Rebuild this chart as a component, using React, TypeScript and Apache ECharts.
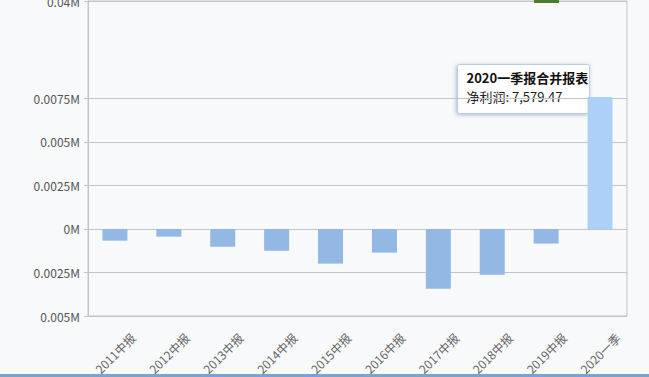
import React, { useEffect, useRef } from "react";
import * as echarts from "echarts";

const categories = ["2011中报", "2012中报", "2013中报", "2014中报", "2015中报", "2016中报", "2017中报", "2018中报", "2019中报", "2020一季"];
const netProfit = [-670, -440, -1020, -1250, -1990, -1360, -3430, -2630, -840, 7579.47];
const axisMin = -5000;
const axisMax = 13100;
const yTickValues = [-5000, -2500, 0, 2500, 5000, 7500, 13100];
const topLabel = "0.04M";
const tipTitle = "2020一季报合并报表";
const tipLine = "净利润: 7,579.47";

const FONT = "'Noto Sans CJK SC', 'Noto Sans', sans-serif";

export default function App() {
  const ref = useRef<HTMLDivElement>(null);
  useEffect(() => {
    if (!ref.current) return;
    const chart = echarts.init(ref.current, undefined, { renderer: "svg" });
    const last = netProfit.length - 1;
    chart.setOption({
      animation: false,
      backgroundColor: "#f8f9fb",
      textStyle: { fontFamily: FONT },
      grid: {
        left: 88,
        right: 22,
        top: 1,
        bottom: 61,
        outerBoundsMode: "none",
        containLabel: false,
        show: true,
        borderColor: "#c4c4c4",
        borderWidth: 1,
      },
      xAxis: {
        type: "category",
        data: categories,
        boundaryGap: true,
        axisLine: { lineStyle: { color: "#c4c4c4" } },
        axisTick: { lineStyle: { color: "#c4c4c4" }, length: 5 },
        axisLabel: {
          rotate: 45,
          color: "#666",
          fontSize: 12,
          fontFamily: FONT,
          margin: 37,
          align: "center",
          verticalAlign: "middle",
          hideOverlap: false,
          interval: 0,
        },
      },
      yAxis: {
        type: "value",
        min: axisMin,
        max: axisMax,
        axisLine: { show: true, lineStyle: { color: "#c4c4c4" } },
        axisTick: { show: true, customValues: yTickValues, lineStyle: { color: "#c4c4c4" }, length: 4 },
        splitLine: { show: true, lineStyle: { color: "#c4c4c4" } },
        axisLabel: {
          customValues: yTickValues,
          color: "#555",
          fontSize: 12,
          fontFamily: FONT,
          margin: 8,
          formatter: (v: number) => (v === axisMax ? topLabel : Math.abs(v) / 1e6 + "M"),
        },
      },
      series: [
        {
          type: "bar",
          barWidth: 25,
          data: netProfit.map((v, i) => ({
            value: v,
            itemStyle: { color: i === last ? "#add0f8" : "#93b8e3" },
          })),
        },
      ],
      graphic: [
        { type: "rect", left: 534, top: 0, shape: { width: 25, height: 3 }, style: { fill: "#4b7d2f" }, z: 100 },
        {
          type: "group",
          left: 457,
          top: 64,
          z: 100,
          children: [
            {
              type: "rect",
              shape: { x: 0, y: 0, width: 132, height: 49, r: 2 },
              style: {
                fill: "#ffffff",
                stroke: "#b7cbe6",
                lineWidth: 1,
                shadowBlur: 4,
                shadowOffsetX: -1,
                shadowOffsetY: 1,
                shadowColor: "rgba(80,110,160,0.45)",
              },
            },
            {
              type: "text",
              x: 9,
              y: 6,
              style: { text: tipTitle, fill: "#111", font: `bold 13px ${FONT}` },
            },
            {
              type: "text",
              x: 9,
              y: 25,
              style: { text: tipLine, fill: "#222", font: `13px ${FONT}` },
            },
          ],
        },
        { type: "rect", left: 0, top: 374, shape: { width: 649, height: 3 }, style: { fill: "#7aa3cf" }, z: 100 },
      ],
    });
    return () => chart.dispose();
  }, []);
  return <div ref={ref} style={{ position: "fixed", left: 0, top: 0, width: 649, height: 377 }} />;
}
